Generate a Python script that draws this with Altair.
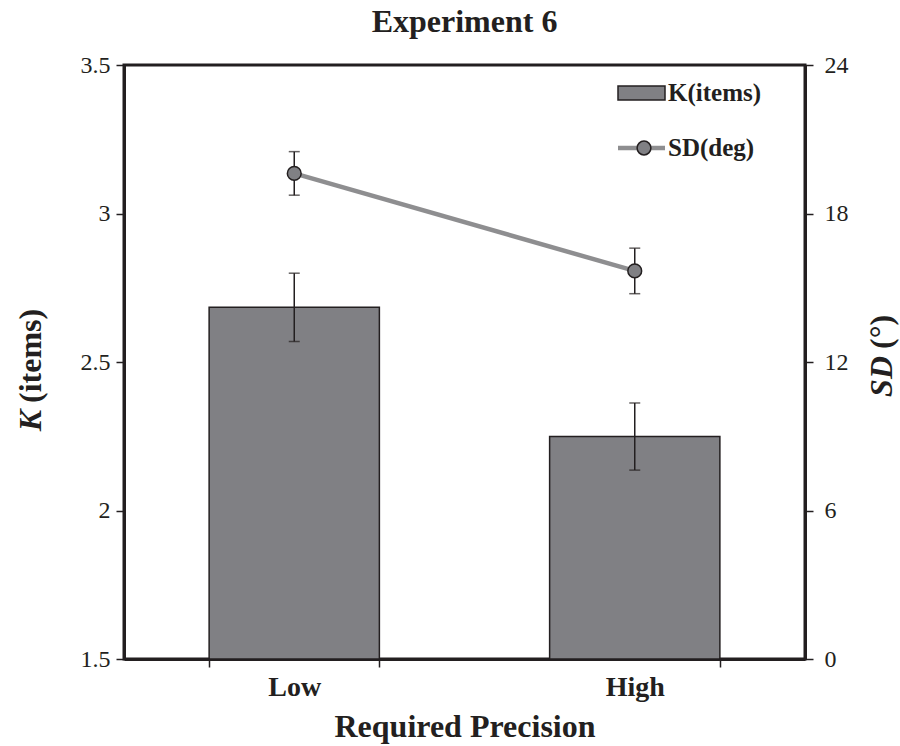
import altair as alt
import pandas as pd

# ---- data -------------------------------------------------------------
conditions = ["Low", "High"]
k_mean = [2.684, 2.249]      # capacity K (items)
k_err = [0.115, 0.113]
sd_mean = [19.62, 15.68]     # precision SD (deg)
sd_err = [0.88, 0.92]

df = pd.DataFrame({
    "cond": conditions,
    "k": k_mean,
    "k_lo": [m - e for m, e in zip(k_mean, k_err)],
    "k_hi": [m + e for m, e in zip(k_mean, k_err)],
    "sd": sd_mean,
    "sd_lo": [m - e for m, e in zip(sd_mean, sd_err)],
    "sd_hi": [m + e for m, e in zip(sd_mean, sd_err)],
})

# ---- styling ----------------------------------------------------------
INK = "#231f20"
FONT = "Liberation Serif"
BAR = "#808084"
LINE = "#8e8e90"
W, H = 681, 594

x_enc = alt.X(
    "cond:N",
    sort=conditions,
    scale=alt.Scale(paddingInner=0.5, paddingOuter=0.25),
    axis=alt.Axis(
        title="Required Precision",
        labelAngle=0,
        tickBand="extent",
        labelFontWeight="bold",
        labelFontSize=28,
        labelPadding=6,
        titleFontSize=32,
        titleFontWeight="bold",
        titlePadding=10,
    ),
)

k_axis = alt.Axis(
    orient="left", title=None, values=[1.5, 2, 2.5, 3, 3.5], format="~g",
    labelPadding=6,
)
sd_axis = alt.Axis(
    orient="right", title=None, values=[0, 6, 12, 18, 24], format="~g",
    labelPadding=11,
)
k_scale = alt.Scale(domain=[1.5, 3.5], nice=False, zero=False)
sd_scale = alt.Scale(domain=[0, 24], nice=False)

base = alt.Chart(df)

# bars for K with error bars
bars = base.mark_bar(color=BAR, stroke=INK, strokeWidth=1.5).encode(
    x=x_enc,
    y=alt.Y("k:Q", scale=k_scale, axis=k_axis),
    y2=alt.datum(1.5),
)
k_rule = base.mark_rule(color=INK, strokeWidth=1.5).encode(
    x=x_enc,
    y=alt.Y("k_lo:Q", scale=k_scale, axis=k_axis),
    y2="k_hi:Q",
)
k_cap_hi = base.mark_tick(color=INK, thickness=1.5, size=11).encode(
    x=x_enc, y=alt.Y("k_hi:Q", scale=k_scale, axis=k_axis)
)
k_cap_lo = base.mark_tick(color=INK, thickness=1.5, size=11).encode(
    x=x_enc, y=alt.Y("k_lo:Q", scale=k_scale, axis=k_axis)
)
k_layer = alt.layer(bars, k_rule, k_cap_hi, k_cap_lo)

# line for SD with error bars and circle markers
sd_line = base.mark_line(color=LINE, strokeWidth=4.5).encode(
    x=x_enc, y=alt.Y("sd:Q", scale=sd_scale, axis=sd_axis)
)
sd_rule = base.mark_rule(color=INK, strokeWidth=1.5).encode(
    x=x_enc,
    y=alt.Y("sd_lo:Q", scale=sd_scale, axis=sd_axis),
    y2="sd_hi:Q",
)
sd_cap_hi = base.mark_tick(color=INK, thickness=1.5, size=11).encode(
    x=x_enc, y=alt.Y("sd_hi:Q", scale=sd_scale, axis=sd_axis)
)
sd_cap_lo = base.mark_tick(color=INK, thickness=1.5, size=11).encode(
    x=x_enc, y=alt.Y("sd_lo:Q", scale=sd_scale, axis=sd_axis)
)
sd_pts = base.mark_circle(
    size=190, color=BAR, opacity=1, stroke=INK, strokeWidth=1.5
).encode(x=x_enc, y=alt.Y("sd:Q", scale=sd_scale, axis=sd_axis))
sd_layer = alt.layer(sd_line, sd_rule, sd_cap_hi, sd_cap_lo, sd_pts)

# ---- hand-built legend ------------------------------------------------
one = pd.DataFrame({"t": ["K(items)"]})
leg_rect = alt.Chart(one).mark_rect(color=BAR, stroke=INK, strokeWidth=1.5).encode(
    x=alt.value(494), x2=alt.value(541), y=alt.value(21), y2=alt.value(35)
)
leg_k = alt.Chart(one).mark_text(
    font=FONT, fontSize=25, fontWeight="bold", color=INK, align="left", baseline="middle"
).encode(text="t:N", x=alt.value(544), y=alt.value(28))

two = pd.DataFrame({"t": ["SD(deg)"]})
leg_line = alt.Chart(two).mark_rule(color=LINE, strokeWidth=4.5).encode(
    x=alt.value(494), x2=alt.value(541), y=alt.value(83)
)
leg_pt = alt.Chart(two).mark_circle(
    size=190, color=BAR, opacity=1, stroke=INK, strokeWidth=1.5
).encode(x=alt.value(520), y=alt.value(83))
leg_sd = alt.Chart(two).mark_text(
    font=FONT, fontSize=25, fontWeight="bold", color=INK, align="left", baseline="middle"
).encode(text="t:N", x=alt.value(544), y=alt.value(83))

# ---- y-axis titles with italic symbols --------------------------------
def rot_text(label, xpos, ypos, align, style):
    return alt.Chart(pd.DataFrame({"t": [label]})).mark_text(
        font=FONT, fontSize=32, fontWeight="bold", fontStyle=style, color=INK,
        angle=270, align=align, baseline="middle",
    ).encode(text="t:N", x=alt.value(xpos), y=alt.value(ypos))

k_title_sym = rot_text("K", -93, 345, "right", "italic")
k_title_unit = rot_text("(items)", -93, 338, "left", "normal")
sd_title_sym = rot_text("SD", 758, 291, "right", "italic")
sd_title_unit = rot_text("(°)", 758, 284, "left", "normal")

chart = (
    alt.layer(
        k_layer, sd_layer,
        leg_rect, leg_k, leg_line, leg_pt, leg_sd,
        k_title_sym, k_title_unit, sd_title_sym, sd_title_unit,
    )
    .resolve_scale(y="independent")
    .properties(
        width=W,
        height=H,
        title=alt.TitleParams(
            "Experiment 6", font=FONT, fontSize=32, fontWeight="bold",
            color=INK, offset=14,
        ),
        padding={"left": 124, "top": 65, "right": 95, "bottom": 87},
        autosize=alt.AutoSizeParams(type="none"),
        background="white",
    )
    .configure_view(stroke=INK, strokeWidth=3)
    .configure_axis(
        grid=False,
        domainColor=INK,
        domainWidth=3,
        tickColor=INK,
        tickWidth=1.5,
        tickSize=8,
        labelFont=FONT,
        labelFontSize=24,
        labelColor=INK,
        titleFont=FONT,
        titleColor=INK,
    )
)

chart.save("out.html", embed_options={"renderer": "svg", "actions": False})
